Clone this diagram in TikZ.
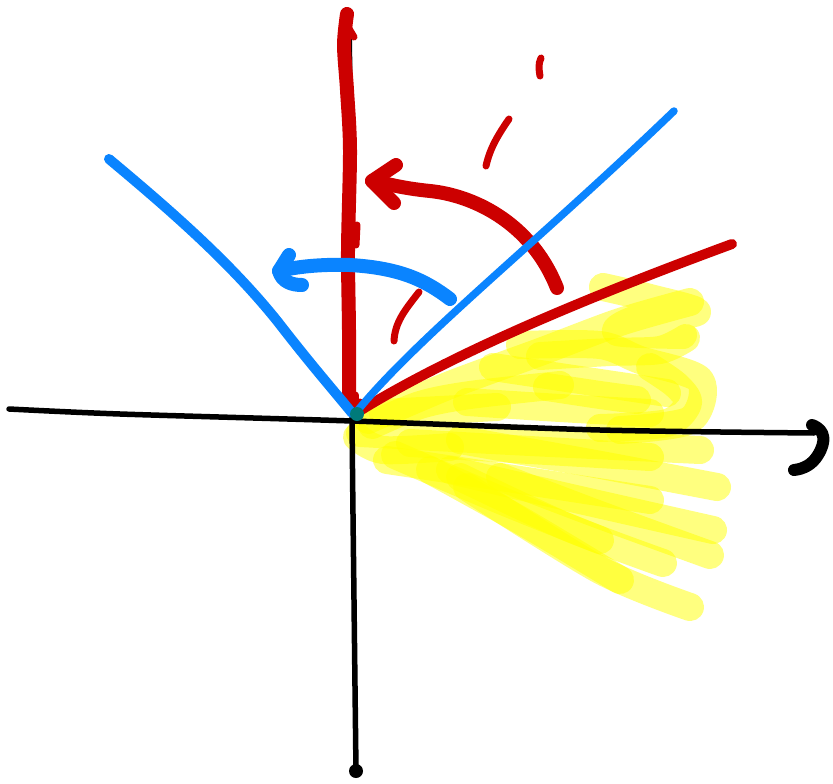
\documentclass[tikz,border=0pt]{standalone}
\definecolor{pred}{HTML}{CC0000}
\definecolor{pblue}{HTML}{0A84FF}
\definecolor{pyel}{HTML}{FFFF00}
\definecolor{pteal}{HTML}{007A7A}
\begin{document}
\begin{tikzpicture}[x=1pt,y=-1pt,
  ink/.style={line cap=round,line join=round},
  hl/.style={ink, draw=pyel, draw opacity=0.5, line width=28pt},
  axis/.style={ink, draw=black, line width=5.5pt},
  redthick/.style={ink, draw=pred, line width=14pt},
  redmid/.style={ink, draw=pred, line width=10pt},
  redthin/.style={ink, draw=pred, line width=7pt},
  bluemid/.style={ink, draw=pblue, line width=10pt},
  bluethin/.style={ink, draw=pblue, line width=7.5pt},
  bluethick/.style={ink, draw=pblue, line width=14pt}]
\useasboundingbox (0,0) rectangle (833,784);
% yellow scribble
\draw[hl] plot[smooth] coordinates {(368,420) (450,385) (540,352) (620,322) (690,302)};
\draw[hl] plot[smooth] coordinates {(603,287) (650,298) (697,312) (640,318) (617,332) (683,335)};
\draw[hl] plot[smooth] coordinates {(540,356) (610,352) (660,350) (686,338)};
\draw[hl] plot[smooth] coordinates {(493,367) (580,380) (667,393)};
\draw[hl] plot[smooth] coordinates {(650,367) (676,385) (688,403) (667,423) (600,428)};
\draw[hl] plot[smooth] coordinates {(547,387) (600,395) (637,400)};
\draw[hl] plot[smooth] coordinates {(467,402) (560,408) (650,413)};
\draw[hl] plot[smooth] coordinates {(383,413) (440,410) (497,407)};
\draw[hl] plot[smooth] coordinates {(360,433) (530,442) (700,450)};
\draw[hl] plot[smooth] coordinates {(410,443) (530,450) (650,457)};
\draw[hl] plot[smooth] coordinates {(460,440) (590,463) (717,487)};
\draw[hl] plot[smooth] coordinates {(387,460) (520,480) (650,500)};
\draw[hl] plot[smooth] coordinates {(450,470) (580,500) (713,530)};
\draw[hl] plot[smooth] coordinates {(500,477) (600,515) (710,555)};
\draw[hl] plot[smooth] coordinates {(460,477) (567,527) (663,563)};
\draw[hl] plot[smooth] coordinates {(467,487) (600,570) (690,607)};
\draw[hl] plot[smooth] coordinates {(357,437) (383,450) (450,447)};
\draw[hl] plot[smooth] coordinates {(395,455) (500,500) (600,540)};
\draw[hl] plot[smooth] coordinates {(372,425) (420,405) (470,395) (560,385)};
\draw[hl] plot[smooth] coordinates {(520,345) (600,345) (640,360) (700,380) (690,420) (620,430)};
\draw[hl] plot[smooth] coordinates {(430,470) (520,520) (620,580)};
% axes
\draw[axis] plot[smooth] coordinates {(9,409) (120,414) (352,421) (600,430) (814,433)};
\draw[ink, line width=12pt] (812,425) .. controls (826,430) and (826,442) .. (818,455) .. controls (812,465) and (803,469) .. (794,470);
\draw[axis] plot[smooth] coordinates {(349,15) (351,200) (352,415) (354,600) (356,771)};
\fill (356,771) circle (7);
% red vertical
\draw[redthick] plot[smooth] coordinates {(347,14) (344,45) (347,90) (350,150) (348,250) (349,330) (349,403)};
\draw[redthin] (348,27) -- (354,37);
\draw[redthin] (357,225) -- (356,245);
\draw[redthin] (355,395) -- (355,408);
\fill[pred] (360,402) circle (3.5);
% red curved arrow
\draw[redthick] (557,288) .. controls (530,220) and (470,195) .. (430,191) .. controls (400,188) and (385,183) .. (372,181);
\draw[redthick] (396,165) -- (372,181) -- (394,203);
% red dashes
\draw[redthin] (541,58) .. controls (538,64) and (539,70) .. (540,76);
\draw[redthin] (509,119) .. controls (498,135) and (490,148) .. (486,166);
\draw[redthin] (419,292) .. controls (405,310) and (395,322) .. (394,341);
% red ray
\draw[redmid] (358,412) .. controls (450,355) and (580,300) .. (732,244);
% blue rays
\draw[bluemid] (109,159) .. controls (170,210) and (230,262) .. (278,322) .. controls (312,366) and (335,392) .. (352,413);
\draw[bluethin] (358,410) .. controls (420,335) and (540,240) .. (674,111);
% blue arrow
\draw[bluethick] (450,299) .. controls (425,280) and (400,268) .. (350,265) .. controls (320,264) and (295,267) .. (279,271);
\draw[bluethick] (289,255) -- (279,271) .. controls (282,282) and (292,285) .. (302,285);
% origin dot
\fill[pteal] (357,414) circle (7);
\end{tikzpicture}
\end{document}
